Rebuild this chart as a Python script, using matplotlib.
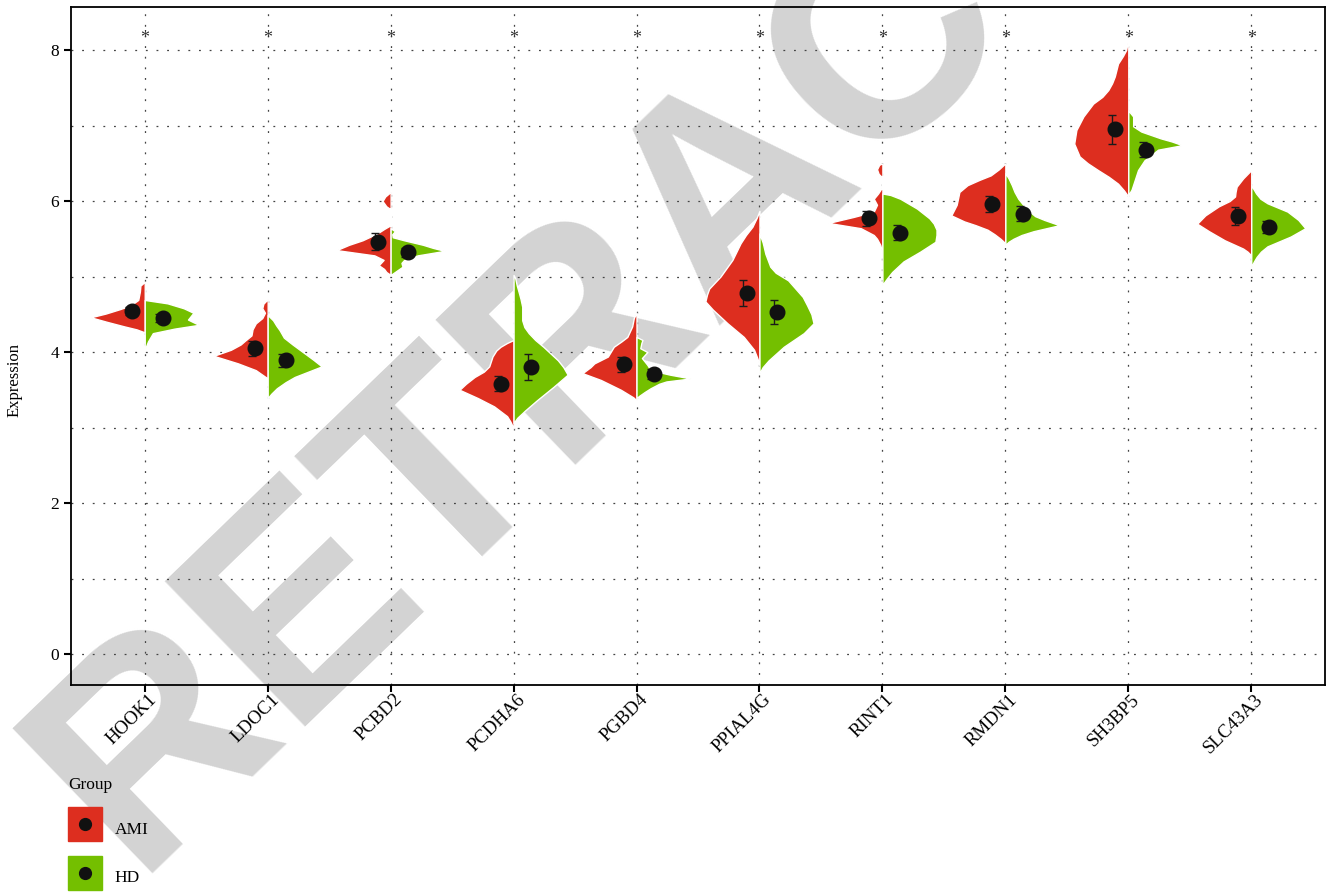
import numpy as np
import matplotlib.pyplot as plt
from matplotlib.lines import Line2D
from matplotlib.legend_handler import HandlerTuple

plt.rcParams['font.family'] = ['Liberation Serif', 'DejaVu Serif']

genes = ['HOOK1', 'LDOC1', 'PCBD2', 'PCDHA6', 'PGBD4',
         'PPIAL4G', 'RINT1', 'RMDN1', 'SH3BP5', 'SLC43A3']

# group means and standard errors
ami_mean = [4.54, 4.05, 5.46, 3.58, 3.84, 4.78, 5.77, 5.96, 6.95, 5.80]
hd_mean = [4.45, 3.89, 5.32, 3.80, 3.71, 4.53, 5.58, 5.83, 6.68, 5.66]
ami_se = [0.05, 0.10, 0.11, 0.10, 0.10, 0.17, 0.10, 0.10, 0.19, 0.12]
hd_se = [0.05, 0.09, 0.06, 0.17, 0.07, 0.16, 0.10, 0.10, 0.10, 0.08]

# density outlines: (expression, relative density) for each half
ami_shape = {
    'HOOK1': [(4.26, 0), (4.30, 0.15), (4.34, 0.38), (4.40, 0.7), (4.46, 1.0), (4.51, 0.72),
              (4.57, 0.45), (4.62, 0.26), (4.69, 0.12), (4.80, 0.09), (4.88, 0.08), (4.93, 0)],
    'LDOC1': [(3.65, 0), (3.70, 0.1), (3.76, 0.22), (3.85, 0.55), (3.95, 1.0), (4.03, 0.68),
              (4.10, 0.5), (4.15, 0.42), (4.22, 0.3), (4.30, 0.28), (4.38, 0.22), (4.45, 0.1),
              (4.52, 0.05), (4.58, 0.1), (4.64, 0.08), (4.70, 0)],
    'PCBD2': [(5.02, 0), (5.06, 0.08), (5.10, 0.12), (5.15, 0.22), (5.22, 0.13), (5.28, 0.3),
              (5.35, 1.0), (5.42, 0.77), (5.48, 0.52), (5.57, 0.25), (5.63, 0.12), (5.68, 0),
              (5.89, 0), (5.93, 0.08), (6.00, 0.15), (6.06, 0.1), (6.12, 0)],
    'PCDHA6': [(2.99, 0), (3.08, 0.06), (3.15, 0.12), (3.28, 0.36), (3.39, 0.66), (3.50, 1.0),
               (3.58, 0.88), (3.67, 0.72), (3.74, 0.55), (3.81, 0.45), (3.94, 0.39),
               (4.02, 0.32), (4.07, 0.24), (4.12, 0.12), (4.16, 0)],
    'PGBD4': [(3.36, 0), (3.40, 0.06), (3.50, 0.29), (3.63, 0.66), (3.72, 1.0), (3.80, 0.85),
              (3.85, 0.78), (3.94, 0.53), (4.07, 0.42), (4.14, 0.28), (4.20, 0.17),
              (4.34, 0.08), (4.45, 0.05), (4.52, 0)],
    'PPIAL4G': [(3.83, 0), (3.92, 0.04), (4.03, 0.1), (4.20, 0.29), (4.38, 0.59), (4.56, 0.86),
                (4.67, 1.0), (4.76, 0.97), (4.84, 0.93), (5.00, 0.72), (5.22, 0.5),
                (5.44, 0.35), (5.55, 0.25), (5.66, 0.13), (5.78, 0.05), (5.87, 0)],
    'RINT1': [(5.31, 0), (5.42, 0.04), (5.50, 0.1), (5.55, 0.16), (5.64, 0.4), (5.71, 1.0),
              (5.79, 0.53), (5.86, 0.16), (5.95, 0.1), (6.03, 0.16), (6.10, 0.08), (6.19, 0),
              (6.31, 0), (6.36, 0.07), (6.42, 0.1), (6.48, 0.06), (6.50, 0)],
    'RMDN1': [(5.44, 0), (5.50, 0.09), (5.56, 0.2), (5.62, 0.33), (5.68, 0.55), (5.73, 0.76),
              (5.81, 1.0), (5.88, 0.95), (5.95, 0.9), (6.05, 0.87), (6.12, 0.85), (6.21, 0.7),
              (6.28, 0.48), (6.34, 0.27), (6.42, 0.12), (6.50, 0)],
    'SH3BP5': [(6.06, 0), (6.14, 0.08), (6.23, 0.19), (6.32, 0.36), (6.41, 0.56), (6.50, 0.75),
               (6.59, 0.9), (6.76, 1.0), (6.94, 0.96), (7.12, 0.83), (7.29, 0.65),
               (7.38, 0.48), (7.47, 0.37), (7.56, 0.3), (7.65, 0.25), (7.82, 0.19),
               (7.92, 0.1), (8.00, 0.04), (8.15, 0)],
    'SLC43A3': [(5.28, 0), (5.33, 0.07), (5.37, 0.15), (5.48, 0.49), (5.60, 0.78), (5.70, 1.0),
                (5.81, 0.85), (5.93, 0.6), (6.00, 0.4), (6.06, 0.3), (6.12, 0.29),
                (6.19, 0.27), (6.30, 0.15), (6.41, 0)],
}
hd_shape = {
    'HOOK1': [(4.03, 0), (4.14, 0.06), (4.25, 0.15), (4.31, 0.55), (4.36, 1.0), (4.43, 0.8),
              (4.52, 0.9), (4.58, 0.72), (4.645, 0.42), (4.69, 0)],
    'LDOC1': [(3.39, 0), (3.45, 0.07), (3.52, 0.17), (3.60, 0.33), (3.67, 0.5), (3.74, 0.75),
              (3.81, 1.0), (3.90, 0.84), (4.00, 0.65), (4.10, 0.46), (4.19, 0.3), (4.29, 0.22),
              (4.35, 0.16), (4.42, 0.1), (4.49, 0)],
    'PCBD2': [(5.02, 0), (5.06, 0.08), (5.13, 0.22), (5.18, 0.2), (5.22, 0.25), (5.28, 0.5),
              (5.34, 1.0), (5.38, 0.78), (5.42, 0.6), (5.48, 0.25), (5.52, 0.04), (5.56, 0.03),
              (5.60, 0.08), (5.64, 0)],
    'PCDHA6': [(3.06, 0), (3.13, 0.07), (3.23, 0.22), (3.36, 0.43), (3.54, 0.74), (3.70, 1.0),
               (3.80, 0.92), (3.89, 0.82), (4.07, 0.55), (4.16, 0.4), (4.25, 0.28),
               (4.33, 0.2), (4.42, 0.16), (4.60, 0.16), (4.70, 0.13), (4.78, 0.1),
               (4.88, 0.06), (4.98, 0.03), (5.02, 0)],
    'PGBD4': [(3.39, 0), (3.42, 0.05), (3.47, 0.15), (3.52, 0.26), (3.58, 0.42), (3.61, 0.55),
              (3.65, 1.0), (3.70, 0.62), (3.76, 0.26), (3.83, 0.2), (3.92, 0.1), (4.00, 0.2),
              (4.05, 0.07), (4.12, 0.09), (4.16, 0.11), (4.20, 0)],
    'PPIAL4G': [(3.72, 0), (3.80, 0.06), (3.89, 0.17), (4.07, 0.45), (4.25, 0.82), (4.38, 1.0),
                (4.50, 0.96), (4.62, 0.88), (4.73, 0.8), (4.95, 0.53), (5.05, 0.3),
                (5.13, 0.2), (5.30, 0.11), (5.45, 0.06), (5.57, 0)],
    'RINT1': [(4.89, 0), (4.97, 0.08), (5.06, 0.18), (5.20, 0.39), (5.33, 0.7), (5.46, 0.98),
              (5.55, 1.0), (5.62, 1.0), (5.70, 0.95), (5.77, 0.87), (5.90, 0.64),
              (6.03, 0.33), (6.08, 0.15), (6.10, 0)],
    'RMDN1': [(5.42, 0), (5.46, 0.06), (5.50, 0.15), (5.55, 0.3), (5.60, 0.52), (5.68, 1.0),
              (5.75, 0.72), (5.80, 0.55), (5.86, 0.45), (5.95, 0.33), (6.03, 0.24),
              (6.12, 0.17), (6.21, 0.12), (6.30, 0.06), (6.37, 0)],
    'SH3BP5': [(6.08, 0), (6.15, 0.06), (6.28, 0.12), (6.41, 0.18), (6.54, 0.3), (6.68, 0.55),
               (6.74, 1.0), (6.79, 0.8), (6.83, 0.6), (6.92, 0.24), (6.99, 0.09),
               (7.12, 0.09), (7.20, 0)],
    'SLC43A3': [(5.13, 0), (5.20, 0.05), (5.26, 0.1), (5.33, 0.18), (5.40, 0.3), (5.53, 0.73),
                (5.64, 1.0), (5.75, 0.87), (5.86, 0.67), (5.97, 0.3), (6.03, 0.17),
                (6.10, 0.09), (6.21, 0)],
}

red = '#dd2e1f'
green = '#74bf00'
half_w = 0.44
pos = np.arange(1, len(genes) + 1)

fig = plt.figure(figsize=(13.29, 8.96), dpi=100)
ax = fig.add_axes([0.0534, 0.2355, 0.9436, 0.7567])
ax.patch.set_alpha(0)

fig.text(0.552, 0.79, 'RETRACTED', fontsize=212, rotation=44, color='#d3d3d3',
         ha='center', va='center', rotation_mode='anchor',
         family='Liberation Sans', weight='bold', zorder=-1)

for i, g in enumerate(genes):
    a = np.array(ami_shape[g])
    h = np.array(hd_shape[g])
    ax.fill_betweenx(a[:, 0], pos[i] - a[:, 1] * half_w, pos[i],
                     facecolor=red, edgecolor='white', lw=1, zorder=3)
    ax.fill_betweenx(h[:, 0], pos[i], pos[i] + h[:, 1] * half_w,
                     facecolor=green, edgecolor='white', lw=1, zorder=3)
    ax.text(pos[i], 8.15, '*', ha='center', va='center', fontsize=13, color='#333333')

ax.errorbar(pos - 0.13, ami_mean, yerr=ami_se, fmt='none', ecolor='#1a1a1a',
            elinewidth=1, capsize=3, capthick=1, zorder=4)
ax.errorbar(pos + 0.12, hd_mean, yerr=hd_se, fmt='none', ecolor='#1a1a1a',
            elinewidth=1, capsize=3, capthick=1, zorder=4)
ax.plot(pos - 0.105, ami_mean, 'o', color='#111111', ms=10.5, zorder=5)
ax.plot(pos + 0.145, hd_mean, 'o', color='#111111', ms=10.5, zorder=5)

ax.set_xlim(0.4, 10.6)
ax.set_ylim(-0.41, 8.57)
ax.set_yticks([0, 2, 4, 6, 8])
ax.set_yticks([1, 3, 5, 7], minor=True)
ax.set_xticks(pos)
ax.set_xticklabels([])
# gene names under the ticks, slanted like ggplot's angle=45 labels
for p, g in zip(pos, genes):
    ax.annotate(g, xy=(p, 0), xycoords=('data', 'axes fraction'),
                xytext=(3, -6), textcoords='offset pixels', rotation=45,
                ha='right', va='top', rotation_mode='anchor', fontsize=13.5)
ax.tick_params(axis='y', which='major', labelsize=12.5)
ax.tick_params(axis='both', which='major', length=5, width=1.5, color='black')
ax.tick_params(axis='y', which='minor', length=0)
ax.grid(which='both', axis='y', ls=(0, (1.5, 7)), color='#444444', lw=0.9)
ax.grid(which='major', axis='x', ls=(0, (1.5, 7)), color='#444444', lw=0.9)
for s in ax.spines.values():
    s.set_linewidth(1.3)
    s.set_color('black')

fig.text(0.011, 0.576, 'Expression', rotation=90, ha='center', va='center', fontsize=12)

# legend keys: coloured square with the mean dot on top
handles = [(Line2D([], [], marker='s', ls='', color=red, ms=25),
            Line2D([], [], marker='o', ls='', color='#111111', ms=8.5)),
           (Line2D([], [], marker='s', ls='', color=green, ms=25),
            Line2D([], [], marker='o', ls='', color='#111111', ms=8.5))]
fig.legend(handles, ['AMI', 'HD'], title='Group', loc='upper left',
           bbox_to_anchor=(68 / 1329, 1 - 777 / 896), frameon=False, fontsize=12.5,
           title_fontsize=12.5, alignment='left',
           handler_map={tuple: HandlerTuple(ndivide=1, pad=0)},
           handlelength=2.0, handleheight=2.0, handletextpad=0.7, labelspacing=1.25,
           borderpad=0, borderaxespad=0)

fig.savefig('out.png', dpi=100)
